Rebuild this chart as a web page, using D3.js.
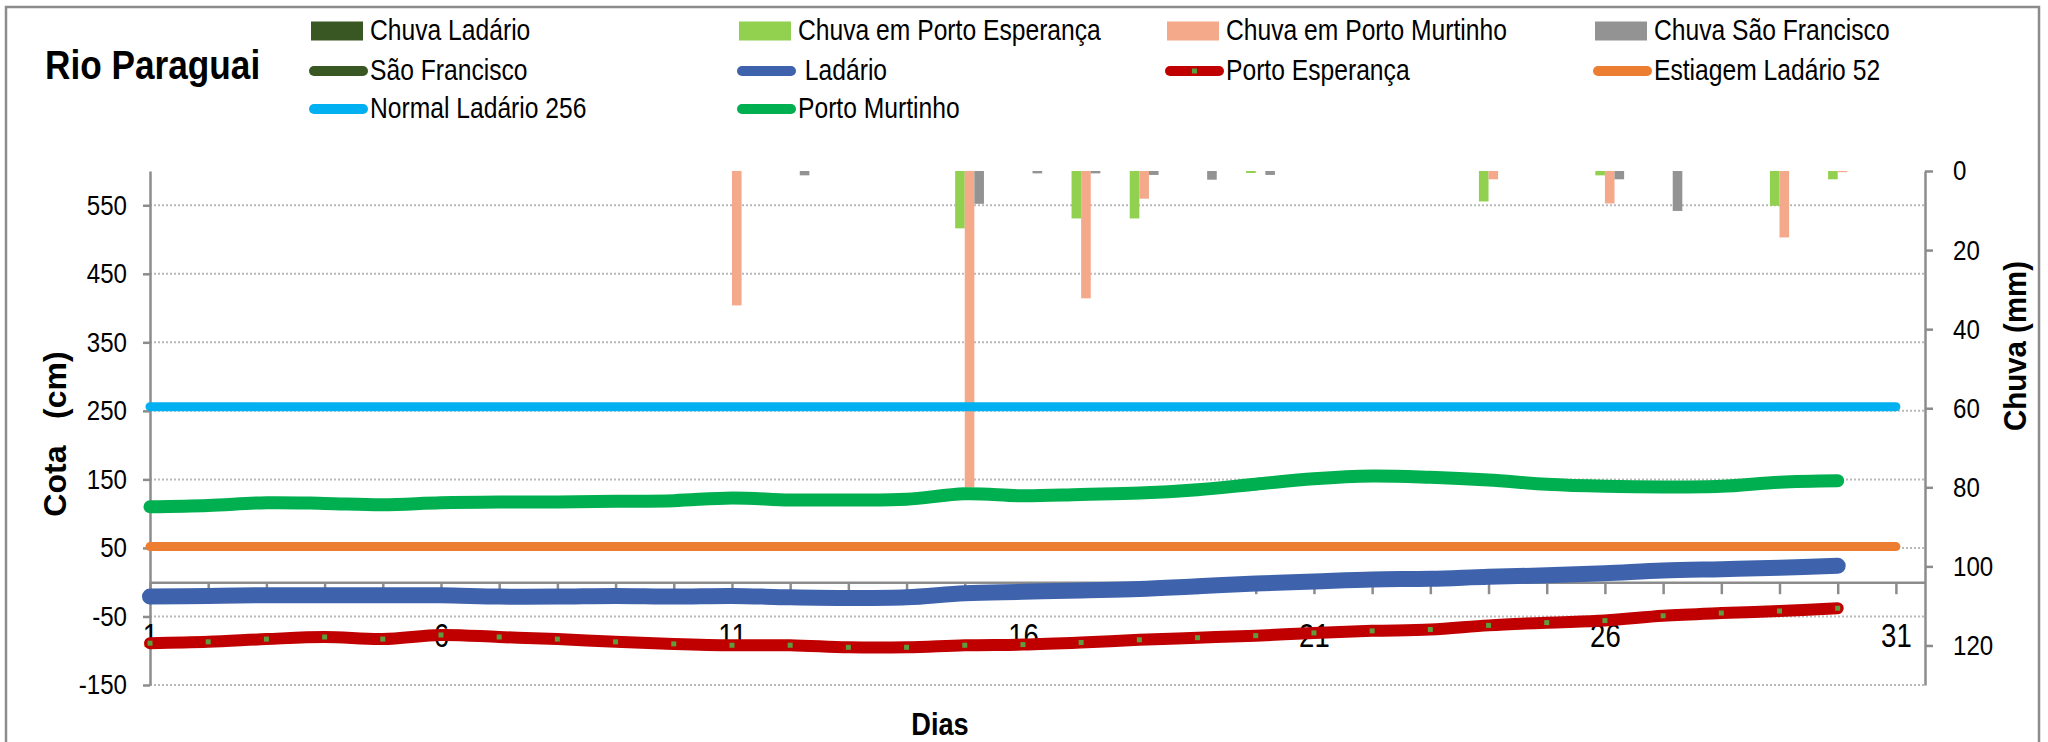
<!DOCTYPE html>
<html>
<head>
<meta charset="utf-8">
<script src="https://cdn.jsdelivr.net/npm/d3@7"></script>
<style>
  body { margin: 0; background: #fff; }
  svg text { font-family: "Liberation Sans", Arial, sans-serif; fill: #000; }
</style>
</head>
<body>
<div id="main"></div>
<script>
// dias do mes
const dias = d3.range(1, 31);          // 1..30 com cota
const diasChuva = d3.range(1, 32);     // 1..31
const diasLabel = [1, 6, 11, 16, 21, 26, 31];

// cotas (cm)
const ladario = [-21, -20, -19, -19, -19, -19, -21, -21, -20, -21, -20, -22, -23, -22, -16,
                 -14, -12, -10, -6, -2, 1, 4, 5, 8, 10, 13, 17, 19, 21, 24];
const portoEsperanca = [-89, -87, -83, -80, -83, -77, -80, -83, -87, -90, -92, -92, -95, -95, -92,
                        -91, -88, -84, -81, -78, -74, -71, -69, -63, -59, -56, -49, -45, -42, -38];
const portoMurtinho = [110, 112, 116, 115, 113, 116, 117, 117, 118, 119, 123, 120, 120, 121, 129,
                       126, 128, 130, 135, 143, 151, 155, 153, 149, 143, 140, 139, 140, 146, 148];
const saoFrancisco = [];               // sem leitura no periodo
const estiagemLadario = 52;
const normalLadario = 256;

// chuva (mm) por dia: [dia, valor]
const chuvaLadario = [];
const chuvaPortoEsperanca = [[15, 14.5], [17, 12], [18, 12], [20, 0.5], [24, 7.7], [26, 1.1], [29, 8.8], [30, 2.1]];
const chuvaPortoMurtinho = [[11, 34], [15, 80], [17, 32.2], [18, 7], [24, 2.1], [26, 8.2], [29, 16.8], [30, 0.3]];
const chuvaSaoFrancisco = [[12, 1.1], [15, 8.3], [16, 0.6], [17, 0.6], [18, 1], [19, 2.2], [20, 1], [26, 2.1], [27, 10.1]];

const cotaTicks = [-150, -50, 50, 150, 250, 350, 450, 550];
const chuvaTicks = [0, 20, 40, 60, 80, 100, 120];

const W = 2048, H = 742;
const plot = {left: 150, right: 1925, top: 171, bottom: 685};

const svg = d3.select("#main")
  .append("svg")
    .attr("width", W)
    .attr("height", H);

// aperta o texto na horizontal (fonte estreita tipo Calibri)
function squeeze(sel, f) {
  sel.each(function() {
    const w = this.getComputedTextLength();
    if (w > 0) d3.select(this).attr("textLength", w * f).attr("lengthAdjust", "spacingAndGlyphs");
  });
}

// moldura
svg.append("rect")
  .attr("x", 6).attr("y", 7)
  .attr("width", 2033).attr("height", 760)
  .attr("fill", "#fff")
  .attr("stroke", "#8c8c8c")
  .attr("stroke-width", 2.5);

const x = d3.scaleLinear().domain([1, 31.5]).range([plot.left, plot.right]);
const y = d3.scaleLinear().domain([-150, 600]).range([plot.bottom, plot.top]);
const y2 = d3.scaleLinear().domain([0, 130]).range([plot.top, plot.bottom]);

// grade pontilhada
svg.append("g")
  .selectAll("line")
  .data(cotaTicks)
  .join("line")
    .attr("x1", plot.left).attr("x2", plot.right)
    .attr("y1", d => y(d)).attr("y2", d => y(d))
    .attr("stroke", "#b9b9b9")
    .attr("stroke-width", 2)
    .attr("stroke-dasharray", "2,2");

// barras de chuva (eixo secundario, invertido)
const barW = 9.6;
const chuvaSeries = [
  {data: chuvaLadario, color: "#385723", k: 0},
  {data: chuvaPortoEsperanca, color: "#92D050", k: 1},
  {data: chuvaPortoMurtinho, color: "#F3A98A", k: 2},
  {data: chuvaSaoFrancisco, color: "#939393", k: 3}
];
chuvaSeries.forEach(s => {
  svg.append("g")
    .selectAll("rect")
    .data(s.data)
    .join("rect")
      .attr("x", d => x(d[0]) + (s.k - 2) * barW)
      .attr("y", y2(0))
      .attr("width", barW)
      .attr("height", d => y2(d[1]) - y2(0))
      .attr("fill", s.color);
});

// eixos
function styleAxis(g) {
  g.selectAll(".domain").attr("stroke", "#8c8c8c").attr("stroke-width", 2.5);
  g.selectAll(".tick line").attr("stroke", "#8c8c8c").attr("stroke-width", 2.5);
  g.selectAll("text").attr("fill", "#000");
}

svg.append("g")
  .attr("transform", `translate(${plot.left},0)`)
  .call(d3.axisLeft(y).tickValues(cotaTicks).tickSize(7).tickSizeOuter(0).tickPadding(16)
    .tickFormat(d => String(d)))
  .call(styleAxis)
  .selectAll("text").attr("font-size", 28).call(squeeze, 0.86);

svg.append("g")
  .attr("transform", `translate(${plot.right},0)`)
  .call(d3.axisRight(y2).tickValues(chuvaTicks).tickSize(8).tickSizeOuter(0).tickPadding(20)
    .tickFormat(d => String(d)))
  .call(styleAxis)
  .selectAll("text").attr("font-size", 28).call(squeeze, 0.86);

svg.append("g")
  .attr("transform", `translate(0,${y(0)})`)
  .call(d3.axisBottom(x).tickValues(diasChuva).tickSize(12).tickSizeOuter(0).tickPadding(29)
    .tickFormat(d => diasLabel.includes(d) ? String(d) : ""))
  .call(styleAxis)
  .selectAll("text").attr("font-size", 34).call(squeeze, 0.81);

// linhas
const line = d3.line()
  .defined(d => d[1] != null)
  .x(d => x(d[0]))
  .y(d => y(d[1]))
  .curve(d3.curveCatmullRom.alpha(0.5));

function drawLine(values, color, width) {
  svg.append("path")
    .datum(values)
    .attr("d", line)
    .attr("fill", "none")
    .attr("stroke", color)
    .attr("stroke-width", width)
    .attr("stroke-linecap", "round")
    .attr("stroke-linejoin", "round");
}

drawLine(diasChuva.map(d => [d, normalLadario]), "#00B0F0", 9);
drawLine(diasChuva.map(d => [d, estiagemLadario]), "#ED7D31", 9);
drawLine(saoFrancisco.map((v, i) => [dias[i], v]), "#385723", 11);
drawLine(ladario.map((v, i) => [dias[i], v]), "#3E63AC", 16);
drawLine(portoMurtinho.map((v, i) => [dias[i], v]), "#00B050", 13);
drawLine(portoEsperanca.map((v, i) => [dias[i], v]), "#C00000", 12);

// marcadores de Porto Esperança
svg.append("g")
  .selectAll("rect")
  .data(portoEsperanca.map((v, i) => [dias[i], v]))
  .join("rect")
    .attr("x", d => x(d[0]) - 2.5)
    .attr("y", d => y(d[1]) - 2.5)
    .attr("width", 5).attr("height", 5)
    .attr("fill", "#5E9C3C");

// rotulo do dia 1 fica por cima da linha
svg.selectAll(".tick text").raise();

// titulos
svg.append("text")
  .attr("x", 45).attr("y", 79)
  .attr("font-size", 40).attr("font-weight", "bold")
  .text("Rio Paraguai")
  .call(squeeze, 0.88);

svg.append("text")
  .attr("transform", "translate(66,434) rotate(-90)")
  .attr("text-anchor", "middle")
  .attr("font-size", 32).attr("font-weight", "bold")
  .style("white-space", "pre")
  .text("Cota   (cm)")
  .call(squeeze, 1.0);

svg.append("text")
  .attr("transform", "translate(2026,346) rotate(-90)")
  .attr("text-anchor", "middle")
  .attr("font-size", 32).attr("font-weight", "bold")
  .text("Chuva (mm)")
  .call(squeeze, 0.92);

svg.append("text")
  .attr("x", 940).attr("y", 735)
  .attr("text-anchor", "middle")
  .attr("font-size", 32).attr("font-weight", "bold")
  .text("Dias")
  .call(squeeze, 0.85);

// legenda
const legendItems = [
  {label: "Chuva Ladário", type: "bar", color: "#385723", col: 0, row: 0},
  {label: "Chuva em Porto Esperança", type: "bar", color: "#92D050", col: 1, row: 0},
  {label: "Chuva em Porto Murtinho", type: "bar", color: "#F3A98A", col: 2, row: 0},
  {label: "Chuva São Francisco", type: "bar", color: "#939393", col: 3, row: 0},
  {label: "São Francisco", type: "line", color: "#385723", col: 0, row: 1},
  {label: " Ladário", type: "line", color: "#3E63AC", col: 1, row: 1},
  {label: "Porto Esperança", type: "line", color: "#C00000", col: 2, row: 1, marker: true},
  {label: "Estiagem Ladário 52", type: "line", color: "#ED7D31", col: 3, row: 1},
  {label: "Normal Ladário 256", type: "line", color: "#00B0F0", col: 0, row: 2},
  {label: "Porto Murtinho", type: "line", color: "#00B050", col: 1, row: 2}
];
const colX = [309, 737, 1165, 1593];
const rowY = [31, 71, 109];

const leg = svg.append("g").selectAll("g")
  .data(legendItems)
  .join("g")
    .attr("transform", d => `translate(${colX[d.col]},${rowY[d.row]})`);

leg.filter(d => d.type === "bar").append("rect")
  .attr("x", 2).attr("y", -9.5)
  .attr("width", 52).attr("height", 19)
  .attr("fill", d => d.color);

leg.filter(d => d.type === "line").append("line")
  .attr("x1", 5).attr("x2", 54)
  .attr("y1", 0).attr("y2", 0)
  .attr("stroke", d => d.color)
  .attr("stroke-width", 10)
  .attr("stroke-linecap", "round");

leg.filter(d => d.marker).append("rect")
  .attr("x", 27).attr("y", -2.5)
  .attr("width", 5).attr("height", 5)
  .attr("fill", "#5E9C3C");

leg.append("text")
  .attr("x", 61).attr("y", 0)
  .attr("dy", "0.3em")
  .attr("font-size", 29)
  .style("white-space", "pre")
  .text(d => d.label)
  .call(squeeze, 0.85);
</script>
</body>
</html>
